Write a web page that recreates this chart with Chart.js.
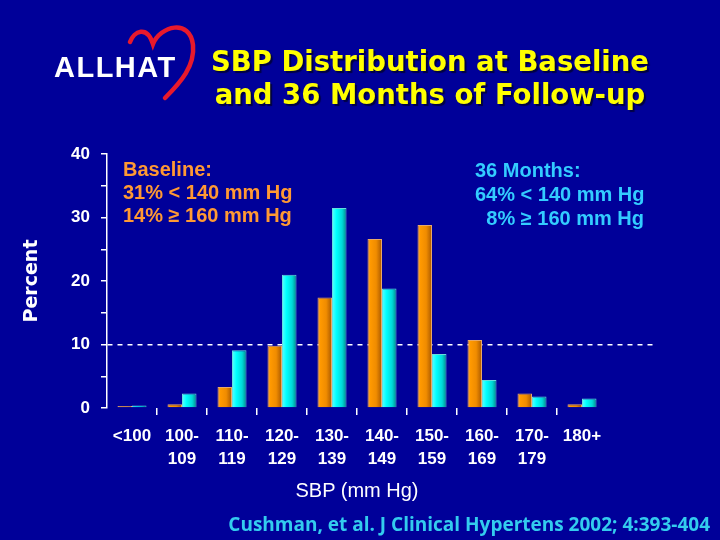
<!DOCTYPE html>
<html>
<head>
<meta charset="utf-8">
<script src="https://cdn.jsdelivr.net/npm/chart.js@4.4.1/dist/chart.umd.min.js"></script>
<style>
    body { margin: 0; background: #000099; }
    #wrap { position: relative; width: 720px; height: 540px; background: #000099; overflow: hidden; }
    #chart { position: absolute; left: 0; top: 0; }
    .txt { position: absolute; white-space: pre; font-family: "Liberation Sans", Arial, sans-serif; font-weight: bold; }
    #title { left: 180px; width: 500px; top: 45px; text-align: center; color: #ffff00; font-family: "DejaVu Sans", Verdana, sans-serif; font-size: 27.5px; line-height: 33px; text-shadow: 2px 2px 1px #000044; }
    #logo { left: 54px; top: 52px; color: #fff; font-size: 29px; line-height: 30px; letter-spacing: 1.5px; }
    #heart { position: absolute; left: 0; top: 0; }
    #base { left: 123px; top: 158px; color: #ff9933; font-size: 20px; line-height: 23px; }
    #month { left: 475px; top: 158px; width: 169px; color: #33ccff; font-size: 20px; line-height: 24px; }
    #month div + div { text-align: right; }
    #xtitle { left: 257px; width: 200px; top: 477px; text-align: center; color: #fff; font-weight: normal; font-size: 20px; line-height: 26px; }
    #cite { right: 10px; top: 511px; color: #33ccee; font-family: "Open Sans", sans-serif; font-size: 19px; line-height: 26px; }
</style>
</head>
<body>
<div id="wrap">
    <canvas id="chart" width="720" height="540"></canvas>
    <svg id="heart" width="720" height="120">
        <path d="M130,42 C134,31 147,25 153,44 C160,26 190,18 193,45 C195,66 181,82 165,98"
              fill="none" stroke="#e8192c" stroke-width="4.5" stroke-linecap="round"/>
    </svg>
    <div class="txt" id="logo">ALLHAT</div>
    <div class="txt" id="title">SBP Distribution at Baseline
and 36 Months of Follow-up</div>
    <div class="txt" id="base">Baseline:
31% &lt; 140 mm Hg
14% ≥ 160 mm Hg</div>
    <div class="txt" id="month"><div>36 Months:</div><div>64% &lt; 140 mm Hg</div><div>8% ≥ 160 mm Hg</div></div>
    <div class="txt" id="xtitle">SBP (mm Hg)</div>
    <div class="txt" id="cite">Cushman, et al. J Clinical Hypertens 2002; 4:393-404</div>
</div>
<script>
// SBP bands; the plot keeps one empty slot after 180+
const sbpCategories = [["<100"], ["100-", "109"], ["110-", "119"], ["120-", "129"], ["130-", "139"], ["140-", "149"], ["150-", "159"], ["160-", "169"], ["170-", "179"], ["180+"]];

// Percent of participants in each band
const baselinePct = [0.3, 0.6, 3.3, 9.8, 17.4, 26.6, 28.8, 10.7, 2.3, 0.6];
const month36Pct = [0.4, 2.3, 9.1, 21.0, 31.5, 18.8, 8.5, 4.4, 1.8, 1.5];

const yTicks = [0, 10, 20, 30, 40];

const white = "#ffffff";
const tickFont = { family: "'Liberation Sans', Arial, sans-serif", size: 17, weight: "bold" };

// Shade each bar left to right so it looks like a cylinder
const barShading = {
    id: "barShading",
    beforeDatasetsDraw(chart) {
        const ctx = chart.ctx;
        chart.data.datasets.forEach((ds, i) => {
            chart.getDatasetMeta(i).data.forEach((bar) => {
                const left = bar.x - bar.width / 2;
                const g = ctx.createLinearGradient(left, 0, left + bar.width, 0);
                ds.shades.forEach(([stop, color]) => g.addColorStop(stop, color));
                bar.options = Object.assign({}, bar.options, { backgroundColor: g });
            });
        });
    },
};

new Chart(document.getElementById("chart"), {
    type: "bar",
    data: {
        labels: [...sbpCategories, ""],
        datasets: [
            {
                label: "Baseline",
                data: baselinePct,
                backgroundColor: "#ff9900",
                borderColor: "#e8a868",
                borderWidth: 1,
                shades: [[0, "#ffb050"], [0.2, "#ff9900"], [0.6, "#f08c00"], [1, "#a85800"]],
            },
            {
                label: "36 Months",
                data: month36Pct,
                backgroundColor: "#00ffff",
                borderColor: "#66dddd",
                borderWidth: 1,
                shades: [[0, "#60ffff"], [0.3, "#00ffff"], [0.7, "#00d8d8"], [1, "#008a8a"]],
            },
        ],
    },
    options: {
        responsive: false,
        animation: false,
        layout: { padding: { left: 0, right: 63, top: 154, bottom: 0 } },
        datasets: { bar: { categoryPercentage: 0.58, barPercentage: 1.0 } },
        plugins: { legend: { display: false }, tooltip: { enabled: false } },
        scales: {
            x: {
                type: "category",
                ticks: {
                    autoSkip: false,
                    maxRotation: 0,
                    padding: 10,
                    color: white,
                    font: { ...tickFont, lineHeight: 1.35 },
                },
                grid: {
                    offset: true,
                    drawOnChartArea: false,
                    tickLength: 7,
                    lineWidth: 1.5,
                    color: (c) => (c.index >= 1 && c.index <= 9 ? white : "transparent"),
                },
                border: { display: false },
                afterFit: (s) => { s.height = 132; },
            },
            y: {
                min: 0,
                max: 40,
                ticks: {
                    stepSize: 5,
                    padding: 11,
                    color: white,
                    font: tickFont,
                    callback: (v) => (yTicks.includes(v) ? v : ""),
                },
                grid: {
                    tickLength: 6,
                    lineWidth: 1.5,
                    tickColor: white,
                    color: (c) => (c.tick && c.tick.value === 10 ? white : "transparent"),
                },
                border: { display: true, color: white, width: 1.5, dash: [5, 5] },
                title: {
                    display: true,
                    text: "Percent",
                    color: white,
                    font: { family: "'DejaVu Sans', Verdana, sans-serif", size: 19, weight: "bold", lineHeight: 1.2 },
                    padding: { top: 21, bottom: 0 },
                },
                afterFit: (s) => { s.width = 107; },
            },
        },
    },
    plugins: [barShading],
});
</script>
</body>
</html>
